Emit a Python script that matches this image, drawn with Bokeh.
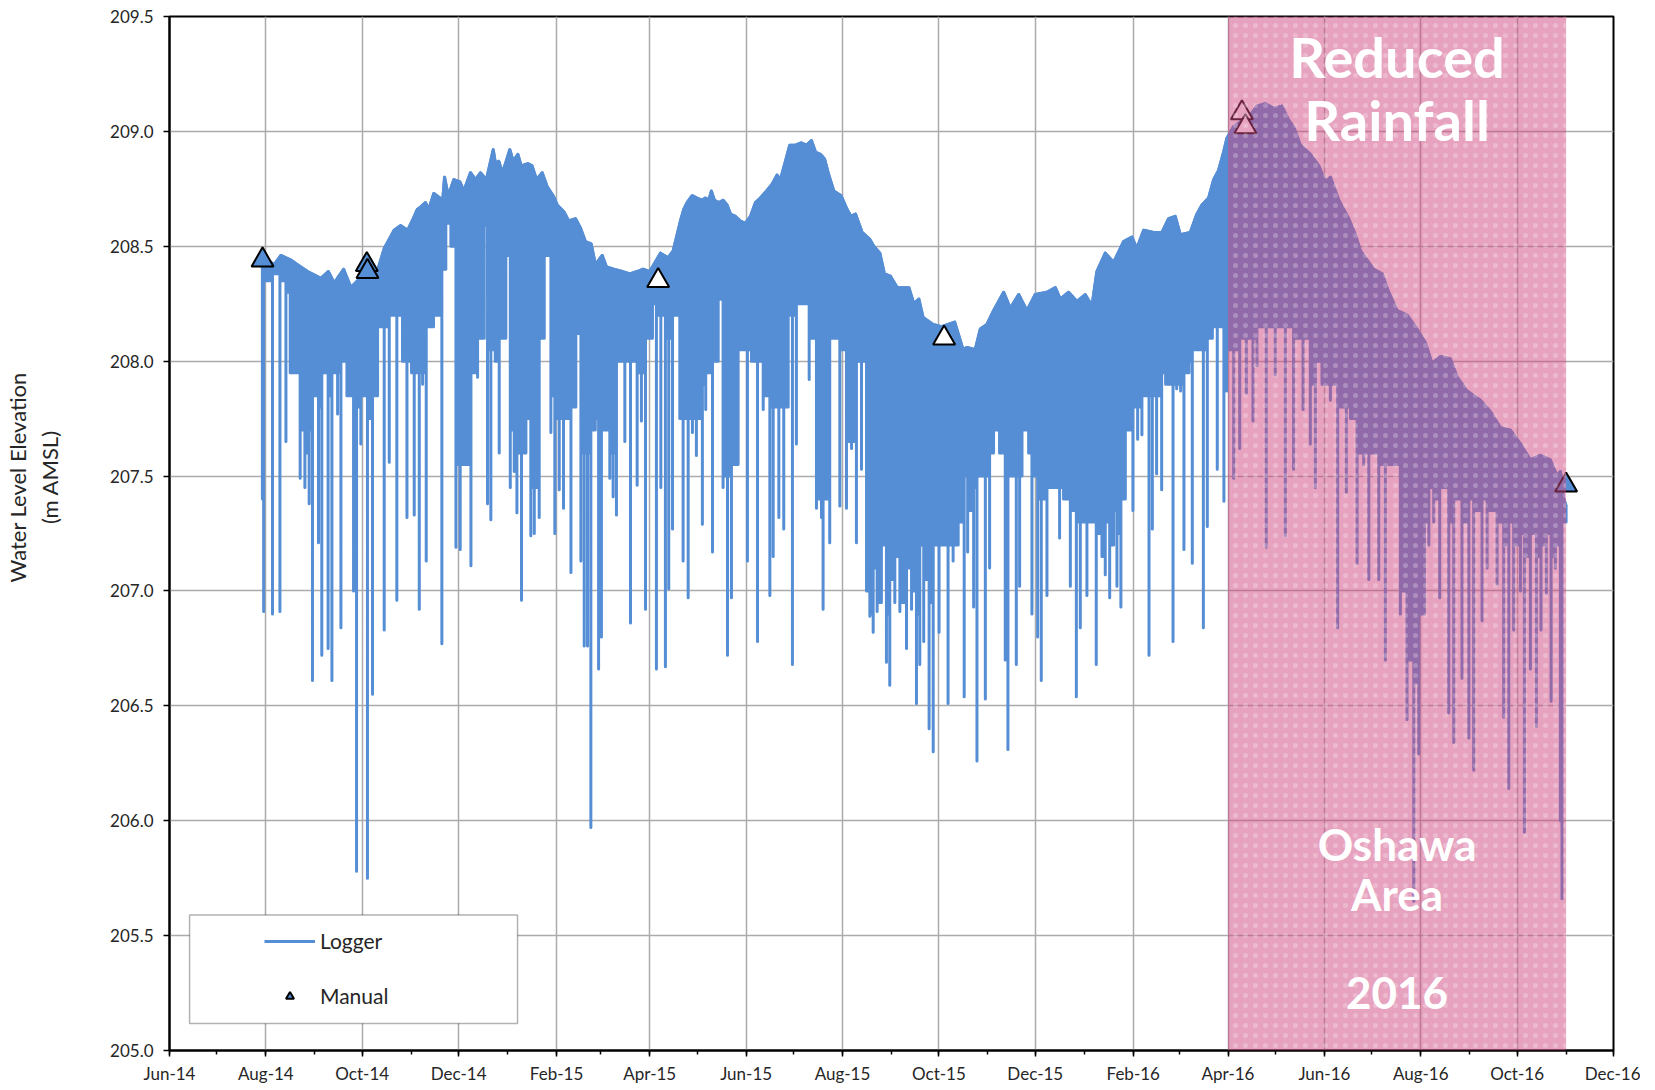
import numpy as np
import pandas as pd
from bokeh.plotting import figure
from bokeh.models import (Range1d, FixedTicker, DatetimeTickFormatter, PrintfTickFormatter,
                          BoxAnnotation, Label, Legend, LegendItem, ColumnDataSource)
from bokeh.embed import file_html
from bokeh.resources import INLINE

# ---------------- data (days are counted from RECORD_START) ----------------
RECORD_START = "2014-06-01"

# upper envelope of the logger record
env_day = [58.5, 62, 66.3, 70.5, 76.8, 81, 87.4, 95.8, 100.5, 104.2, 110.2, 114.8, 119, 125.3,
           130.6, 135.9, 142.2,
           146.2, 150.8, 153.6, 156.8, 158.9, 162.0, 164.1, 167.3, 171.1, 172.6,
           174.1, 176.4, 180.0, 183.8, 186.3, 190.5, 193.7, 196.8, 200.6, 204.9,
           206.3, 208.4, 210.6, 212.7, 215.4, 217.5, 220.5, 222.6, 226.8, 229.5,
           232.3, 235.9, 239.0, 242.8, 245.4, 249.6, 252.7, 257.0, 260.1, 263.3,
           266.9, 269.6, 273.9, 276.6, 281.2, 286.5, 291.4, 296.0,
           299.8, 304, 310.8, 315.6, 318.8,
           323.4, 325.5, 327.6, 330.8, 334.0, 337.1, 339.2, 341.3, 343.0, 344.9,
           347.7, 350.4, 352.9, 355.1, 358.2, 361.4, 364.5, 367.7, 370.9, 374.0,
           377.8, 381.4, 384.6, 386.7, 389.9, 392.6, 396.2, 399.8, 403.2, 406.3,
           408.9, 412.0, 414.6, 417.3, 420.5, 425.1, 428.9, 431.4, 434.2, 438.4,
           443.3, 445.8, 449.6, 452.5, 456.3, 460.6, 464.3, 468.0, 471.1, 474.3,
           477, 483.3, 488.6, 497, 502.3, 504.8, 510, 513.2, 517.4, 521.6,
           528, 532.2, 537.5, 542.7, 548, 555.4, 560.7, 563.8, 569.1, 574.4,
           579.6, 583.9, 587, 592.3, 597.6, 603.9, 609.2, 612.3, 616.6, 622.9,
           628.2, 632.4, 636.6, 639.8, 646.1, 650.3, 653.5, 657.7, 660.9, 664,
           667.2, 669.3, 673.5, 684.1, 688.3, 693.6, 698.8, 704.1, 708.3, 711.5,
           715.8, 722.1, 727.4, 731.6, 734.8, 740.1, 746.4, 750.6, 753.8, 758,
           762.2, 767.5, 771.7, 777, 783.3, 788.6, 794.9, 799.1, 804.4, 810.7,
           815, 821.3, 829.7, 836.1, 842.4, 848.7, 855, 861.4, 867.7, 874,
           878.3, 880.4, 882.5, 884]
env_val = [208.43, 208.44, 208.42, 208.46, 208.44, 208.42, 208.39, 208.36, 208.39, 208.34, 208.40,
           208.32, 208.35, 208.40, 208.37, 208.49, 208.57,
           208.59, 208.57, 208.61, 208.66, 208.67, 208.69, 208.66, 208.73, 208.71, 208.67,
           208.80, 208.72, 208.79, 208.78, 208.74, 208.82, 208.79, 208.82, 208.79, 208.92,
           208.86, 208.87, 208.82, 208.86, 208.92, 208.87, 208.90, 208.85, 208.86, 208.85,
           208.79, 208.82, 208.76, 208.72, 208.68, 208.65, 208.61, 208.62, 208.58, 208.52,
           208.51, 208.42, 208.46, 208.41, 208.40, 208.39, 208.38, 208.39,
           208.40, 208.39, 208.47, 208.45, 208.48,
           208.61, 208.66, 208.69, 208.72, 208.71, 208.70, 208.71, 208.70, 208.74, 208.70,
           208.69, 208.70, 208.68, 208.64, 208.63, 208.61, 208.60, 208.63, 208.69, 208.71,
           208.74, 208.77, 208.81, 208.79, 208.87, 208.94, 208.94, 208.95, 208.94, 208.96,
           208.91, 208.90, 208.88, 208.81, 208.74, 208.72, 208.66, 208.63, 208.64, 208.56,
           208.53, 208.50, 208.47, 208.38, 208.37, 208.32, 208.32, 208.32, 208.25, 208.27,
           208.19, 208.16, 208.15, 208.17, 208.05, 208.06, 208.05, 208.14, 208.16, 208.22,
           208.30, 208.23, 208.29, 208.22, 208.29, 208.30, 208.32, 208.27, 208.30, 208.26,
           208.29, 208.24, 208.39, 208.47, 208.43, 208.52, 208.54, 208.49, 208.57, 208.56,
           208.56, 208.62, 208.63, 208.55, 208.56, 208.64, 208.68, 208.71, 208.79, 208.83,
           208.91, 208.97, 209.02, 209.07, 209.11, 209.12, 209.10, 209.11, 209.05, 209.02,
           208.94, 208.90, 208.85, 208.78, 208.80, 208.70, 208.62, 208.55, 208.48, 208.44,
           208.40, 208.38, 208.30, 208.22, 208.20, 208.15, 208.08, 207.99, 208.02, 208.01,
           207.93, 207.87, 207.83, 207.78, 207.71, 207.70, 207.64, 207.57, 207.59, 207.57,
           207.50, 207.52, 207.40, 207.37]

# pumping drawdown spikes: day, level of the solid band before the spike, spike minimum
spike_day = [58.8, 59.6, 65.2, 69.9, 73.7, 76.4, 82.7, 85.7, 88.4, 90.5, 94.3,
             96.4, 100.4, 102.8, 106.4, 108.5, 112.3, 116.5, 118.4, 121.1, 125.3, 128.5,
             131.7, 135.9, 139.1, 143.9, 147.5, 150.3, 153.2, 154.9, 158.1, 160.2, 162.5,
             167.1, 172.4, 174.9, 178.1, 181.3, 184.0, 187.6, 190.8, 195.0, 199.2, 201.3,
             203.4, 206.2, 208.7, 212.9, 215.7, 218.2, 219.9, 222.8, 225.6, 228.7, 230.9,
             234.0, 237.2, 241.4, 243.9, 246.7, 249.4, 254.1, 257.2, 260.4, 262.5, 264.6,
             266.7, 269.5, 271.6, 273.4, 278.7, 280.8, 282.9, 288.2, 291.8, 296.0, 298.7,
             301.3, 305.7, 308.2, 311.0, 313.9, 316.0, 318.4, 323.0, 325.1, 328.3, 331.0,
             333.5, 337.3, 339.4, 343.7, 347.3, 350.4, 353.2, 355.7, 359.9, 365.8, 368.4,
             372.2, 375.8, 380.0, 382.1, 385.7, 388.8, 391.6, 394.3, 396.8, 401.1, 404.9,
             409.5, 412.7, 413.7, 417.9, 424.3, 428.5, 431.7, 434.8, 438.0, 441.2, 443.3,
             445.4, 447.9, 450.6, 453.8, 455.9, 459.1, 462.3, 466.5, 469.7, 472.8, 474.9,
             477.4, 480.8, 483.4, 487.1, 489.7, 492.8, 496.0, 499.2, 500.5, 503.0, 505.2,
             509.0, 511.1, 513.8, 516.4, 519.1, 521.6, 525.4, 529.0, 530.7, 533.2, 536.0,
             538.1, 539.6, 543.8, 545.9, 549.5, 551.8, 555.4, 558.6, 560.7, 563.4, 565.9,
             570.2, 574.0, 576.5, 578.2, 580.7, 583.9, 586.6, 590.2, 592.3, 595.1, 597.6,
             599.7, 602.2, 605.0, 609.8, 612.8, 615.5, 620.0, 622.1, 624.8, 628.0, 630.5,
             635.2, 637.5, 640.0, 642.1, 645.3, 647.4, 650.6, 654.4, 656.9, 660.1, 663.2,
             664.9, 667.4, 669.1, 673.6, 677.4, 681.6, 685.8, 688.3, 694.2, 699.9, 706.3,
             711.5, 717.5, 722.1, 725.3, 729.5, 734.8, 739.4, 744.9, 747.5, 751.7, 755.9,
             759.1, 765.4, 769.6, 773.8, 779.1, 783.3, 787.6, 790.7, 794.3, 797.1, 800.2,
             804.0, 809.7, 812.9, 818.1, 822.4, 825.5, 830.8, 834.0, 840.3, 844.5, 847.7,
             850.8, 855.1, 857.6, 861.4, 865.2, 868.1, 871.5, 874.5, 877.2, 880.4, 881.4,
             884.0]
band_low = [208.40, 208.30, 208.35, 208.38, 208.35, 208.30, 207.95, 207.70, 207.60, 207.70, 207.85,
            207.80, 207.95, 207.85, 207.95, 207.95, 208.00, 207.85, 207.80, 207.80, 207.85, 207.75,
            207.85, 208.15, 208.15, 208.20, 208.20, 208.00, 208.00, 207.95, 207.95, 207.95, 207.95,
            208.15, 208.20, 208.40, 208.60, 208.50, 207.55, 207.55, 207.55, 207.95, 208.10, 208.59,
            208.05, 208.05, 208.00, 208.10, 208.46, 207.70, 207.70, 207.60, 207.60, 207.75, 207.45,
            207.45, 208.10, 208.46, 207.85, 207.75, 207.75, 207.75, 207.80, 208.12, 207.60, 207.60,
            207.60, 207.70, 207.75, 207.70, 207.70, 207.60, 207.60, 208.00, 208.00, 208.00, 207.95,
            207.95, 208.10, 208.25, 208.20, 208.20, 208.10, 208.10, 208.20, 207.75, 207.75, 207.75,
            207.75, 207.75, 207.90, 207.95, 208.00, 208.27, 207.50, 207.50, 207.55, 208.05, 208.05,
            208.00, 208.00, 207.85, 207.80, 207.80, 207.80, 207.80, 208.20, 208.20, 208.25, 208.25,
            208.10, 207.40, 207.40, 207.40, 208.10, 208.05, 207.65, 207.65, 208.00, 208.00, 207.00,
            206.90, 207.10, 206.95, 207.20, 206.90, 207.05, 207.15, 206.95, 207.10, 207.00, 206.90,
            207.20, 207.05, 206.95, 207.20, 207.20, 207.20, 207.20, 207.20, 207.40, 207.30, 207.50,
            207.35, 207.45, 207.50, 207.50, 207.50, 207.60, 207.70, 207.60, 207.50, 207.50, 207.50,
            207.50, 207.50, 207.70, 207.60, 207.50, 207.40, 207.40, 207.45, 207.45, 207.45, 207.45,
            207.40, 207.35, 207.30, 207.30, 207.30, 207.30, 207.30, 207.25, 207.15, 207.30, 207.20,
            207.35, 207.25, 207.40, 207.70, 207.80, 207.80, 207.85, 207.85, 207.85, 207.85, 207.95,
            207.90, 207.90, 207.90, 207.90, 207.95, 208.00, 208.05, 208.05, 208.05, 208.10, 208.15,
            208.20, 208.15, 208.00, 208.05, 208.05, 208.10, 208.10, 208.10, 208.15, 208.15, 208.15,
            208.15, 208.10, 208.10, 207.90, 208.00, 207.90, 207.90, 207.80, 207.80, 207.75, 207.60,
            207.60, 207.60, 207.55, 207.55, 207.55, 207.00, 206.70, 206.60, 206.90, 207.30, 207.45,
            207.40, 207.45, 207.30, 207.40, 207.30, 207.40, 207.35, 207.40, 207.35, 207.30, 207.20,
            207.30, 207.20, 207.25, 207.15, 207.25, 207.15, 207.20, 207.25, 207.15, 207.20, 207.10,
            207.30]
spike_low = [207.40, 206.91, 206.90, 206.91, 207.65, 208.11, 207.49, 207.45, 207.38, 206.61, 207.21,
             206.72, 206.75, 206.61, 207.77, 206.84, 207.98, 207.00, 205.78, 207.64, 205.75, 206.55,
             207.85, 206.83, 207.56, 206.96, 208.20, 207.32, 207.99, 207.33, 206.92, 207.90, 207.13,
             208.15, 206.77, 208.40, 208.60, 207.19, 207.18, 207.55, 207.11, 207.93, 208.10, 207.38,
             207.31, 208.05, 207.60, 208.10, 207.45, 207.52, 207.34, 206.96, 207.60, 207.24, 207.25,
             207.32, 208.10, 207.69, 207.25, 207.44, 207.36, 207.08, 207.80, 207.13, 206.76, 206.76,
             205.97, 207.70, 206.66, 206.80, 207.49, 207.41, 207.33, 207.65, 206.86, 207.46, 207.74,
             206.92, 208.10, 206.66, 207.45, 206.67, 207.01, 207.27, 208.20, 207.13, 206.97, 207.69,
             207.59, 207.29, 207.79, 207.17, 208.00, 207.45, 206.72, 206.97, 207.55, 207.13, 208.05,
             206.78, 207.79, 206.98, 207.15, 207.32, 207.27, 207.80, 206.68, 207.64, 208.25, 207.92,
             207.36, 207.32, 206.92, 207.21, 207.37, 207.36, 207.62, 207.21, 207.53, 207.99, 206.89,
             206.82, 206.91, 206.95, 206.69, 206.59, 206.95, 206.91, 206.75, 206.92, 206.51, 206.68,
             206.78, 206.40, 206.30, 206.82, 207.20, 206.51, 207.13, 207.20, 207.31, 206.54, 207.17,
             206.93, 206.26, 207.50, 206.53, 207.10, 207.60, 207.70, 206.70, 206.31, 207.50, 206.68,
             207.02, 207.50, 207.70, 206.90, 206.80, 206.61, 206.98, 207.45, 207.45, 207.23, 207.45,
             207.02, 206.54, 206.84, 207.30, 206.98, 207.30, 206.68, 207.18, 207.07, 206.97, 207.25,
             207.02, 206.93, 207.40, 207.35, 207.66, 207.68, 206.72, 207.27, 207.51, 207.44, 207.95,
             206.78, 207.88, 207.87, 207.18, 207.95, 207.12, 208.05, 206.84, 207.28, 208.10, 207.53,
             208.20, 207.39, 207.87, 207.49, 207.62, 207.86, 207.74, 207.98, 207.19, 207.94, 207.24,
             207.53, 207.79, 207.64, 207.45, 208.00, 207.83, 206.84, 207.43, 207.80, 207.12, 207.55,
             207.05, 207.05, 206.70, 207.55, 206.90, 206.44, 205.65, 206.29, 206.90, 207.20, 207.30,
             206.97, 206.47, 206.34, 206.62, 206.36, 206.22, 206.87, 207.10, 207.03, 206.45, 206.14,
             206.83, 207.00, 205.95, 206.66, 206.41, 206.83, 206.99, 206.52, 207.10, 206.00, 205.66,
             207.30]

# manual measurements
manual_day = [58.9, 124.9, 125.3, 309.3, 490.3, 678.8, 681.0, 884.0]
manual_val = [208.44, 208.42, 208.39, 208.35, 208.10, 209.08, 209.02, 207.46]
manual_hollow = [False, False, False, True, True, True, True, False]

# reduced-rainfall period
rain_start = "2016-04-01"
rain_end = "2016-11-01"

y_ticks = [205.0, 205.5, 206.0, 206.5, 207.0, 207.5, 208.0, 208.5, 209.0, 209.5]
x_start, x_end = "2014-06-01", "2016-12-01"

# ---------------- helpers ----------------
t0 = pd.Timestamp(RECORD_START)


def ms(ts):
    return pd.Timestamp(ts).value / 1e6


def day_ms(days):
    return [(t0 + pd.Timedelta(days=float(d))).value / 1e6 for d in days]


BLUE = "#558ED5"
TXT = "#262626"

ne = min(len(env_day), len(env_val))
env_x = day_ms(env_day[:ne])
env_y = env_val[:ne]
sp_x = day_ms(spike_day)

# lower boundary of the logger trace: band with vertical drawdown spikes
low_x, low_y = [], []
n = min(len(spike_day), len(band_low), len(spike_low))
for k in range(n):
    nxt = band_low[k + 1] if k + 1 < n else spike_low[k]
    low_x += [sp_x[k], sp_x[k], sp_x[k]]
    low_y += [band_low[k], spike_low[k], nxt]

poly_x = env_x + low_x[::-1]
poly_y = env_y + low_y[::-1]

x_lo, x_hi = ms(x_start), ms(x_end)
major = [d.value / 1e6 for d in pd.date_range(x_start, x_end, freq="2MS")]
minor = [d.value / 1e6 for d in pd.date_range(x_start, x_end, freq="MS")]

p = figure(width=1640, height=1086, x_axis_type="datetime", output_backend="svg",
           toolbar_location=None, x_range=Range1d(x_lo, x_hi), y_range=Range1d(205.0, 209.5),
           min_border_left=169, min_border_right=27, min_border_top=16, min_border_bottom=34)
p.background_fill_color = "white"
p.border_fill_color = "white"
p.outline_line_color = "black"
p.outline_line_width = 2

p.xaxis.ticker = FixedTicker(ticks=major, minor_ticks=minor)
p.xaxis.formatter = DatetimeTickFormatter(days="%b-%y", months="%b-%y", years="%b-%y")
p.yaxis.ticker = FixedTicker(ticks=y_ticks)
p.yaxis.formatter = PrintfTickFormatter(format="%.1f")
for ax in (p.xaxis[0], p.yaxis[0]):
    ax.axis_line_color = "black"
    ax.axis_line_width = 2
    ax.major_tick_line_color = "black"
    ax.major_tick_line_width = 1.5
    ax.major_tick_in = 0
    ax.major_tick_out = 6
    ax.major_label_text_font = "Lato"
    ax.major_label_text_font_size = "17px"
    ax.major_label_text_color = TXT
p.xaxis.minor_tick_in = 0
p.xaxis.minor_tick_out = 4
p.xaxis.minor_tick_line_color = "black"
p.xaxis.minor_tick_line_width = 1.5
p.yaxis.minor_tick_line_color = None
p.xaxis.major_label_standoff = 6
p.yaxis.major_label_standoff = 10
# the title sits above the middle of the axis in the reference: pad the start of each
# (bottom-to-top) line with no-break spaces to lift the centred text
pad = "\u00a0" * 20
p.yaxis.axis_label = pad + "Water Level Elevation\n" + pad + "(m AMSL)"
p.yaxis.axis_label_text_font = "Lato"
p.yaxis.axis_label_text_font_size = "22px"
p.yaxis.axis_label_text_font_style = "normal"
p.yaxis.axis_label_text_color = TXT
p.yaxis.axis_label_standoff = 44
p.grid.grid_line_color = "#ABABAB"
p.grid.grid_line_width = 1.5

# logger trace
p.patch(poly_x, poly_y, fill_color=BLUE, line_color=BLUE, line_width=3, line_join="round")
env_line = p.line(env_x, env_y, line_color=BLUE, line_width=3, line_join="round")

# manual readings
src = ColumnDataSource(dict(x=day_ms(manual_day), y=manual_val,
                            fill=["white" if h else BLUE for h in manual_hollow]))
man = p.scatter("x", "y", source=src, marker="triangle", size=22, fill_color="fill",
                line_color="black", line_width=2)

# reduced-rainfall shading
p.add_layout(BoxAnnotation(left=ms(rain_start), right=ms(rain_end), fill_color="#CD467D",
                           fill_alpha=0.5, line_alpha=0, hatch_pattern="dot", hatch_color="white",
                           hatch_alpha=0.25, hatch_scale=10, hatch_weight=0.4))
mid = (ms(rain_start) + ms(rain_end)) / 2
for txt, yv, fs in (("Reduced", 209.325, "56px"), ("Rainfall", 209.052, "56px"),
                    ("Oshawa", 205.900, "44px"), ("Area", 205.683, "44px"),
                    ("2016", 205.250, "44px")):
    p.add_layout(Label(x=mid, y=yv, text=txt, text_align="center", text_baseline="alphabetic",
                       text_font="Lato", text_font_style="bold", text_font_size=fs,
                       text_color="white"))

# legend frame + legend
p.add_layout(BoxAnnotation(left=x_lo + 12.7 * 86400000, right=x_lo + 220.3 * 86400000,
                           bottom=205.117, top=205.59, fill_color="white", fill_alpha=1,
                           line_color="black", line_width=1.5))
legend = Legend(items=[LegendItem(label="Logger", renderers=[env_line]),
                       LegendItem(label="Manual", renderers=[man], index=0)],
                location=(95, 42), orientation="vertical", padding=0, spacing=30, margin=0,
                glyph_width=51, glyph_height=20, label_height=20, label_standoff=5,
                label_text_font="Lato", label_text_font_size="21px", label_text_color=TXT,
                background_fill_alpha=0, border_line_alpha=0)
p.add_layout(legend)

open("out.html", "w").write(file_html(p, INLINE))
